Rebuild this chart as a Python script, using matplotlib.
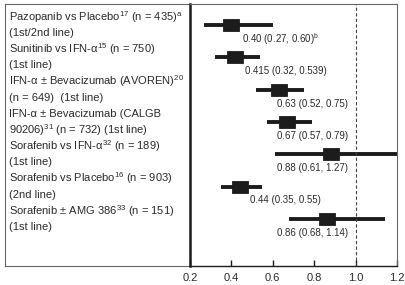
import matplotlib
matplotlib.use("Agg")
import matplotlib.pyplot as plt
from matplotlib.path import Path

plt.rcParams['font.family'] = ['Liberation Sans', 'DejaVu Sans']
plt.rcParams['mathtext.fontset'] = 'custom'
plt.rcParams['mathtext.rm'] = 'Liberation Sans'
plt.rcParams['mathtext.it'] = 'Liberation Sans'

# Dane badań (dwie linie opisu na badanie)
studies_l1 = [
    "Pazopanib vs Placebo$^{17}$ (n = 435)$^{a}$",
    "Sunitinib vs IFN-α$^{15}$ (n = 750)",
    "IFN-α ± Bevacizumab (AVOREN)$^{20}$",
    "IFN-α ± Bevacizumab (CALGB",
    "Sorafenib vs IFN-α$^{32}$ (n = 189)",
    "Sorafenib vs Placebo$^{16}$ (n = 903)",
    "Sorafenib ± AMG 386$^{33}$ (n = 151)",
]
studies_l2 = [
    "(1st/2nd line)",
    "(1st line)",
    "(n = 649)  (1st line)",
    "90206)$^{31}$ (n = 732) (1st line)",
    "(1st line)",
    "(2nd line)",
    "(1st line)",
]
hr = [0.40, 0.415, 0.63, 0.67, 0.88, 0.44, 0.86]
ci_low = [0.27, 0.32, 0.52, 0.57, 0.61, 0.35, 0.68]
ci_high = [0.60, 0.539, 0.75, 0.79, 1.27, 0.55, 1.14]
hr_labels = ["0.40 (0.27, 0.60)$^{b}$", "0.415 (0.32, 0.539)", "0.63 (0.52, 0.75)",
             "0.67 (0.57, 0.79)", "0.88 (0.61, 1.27)", "0.44 (0.35, 0.55)",
             "0.86 (0.68, 1.14)"]
xticks = [0.2, 0.4, 0.6, 0.8, 1.0, 1.2]

ink = "#1c1c1c"
txt = "#2a2a2a"
box = "#666666"

fig = plt.figure(figsize=(4.06, 2.85), dpi=100)
ax_txt = fig.add_axes([5 / 406, 1 - 266 / 285, 185 / 406, 262 / 285])
ax = fig.add_axes([190 / 406, 1 - 266 / 285, 207 / 406, 262 / 285])

n = len(studies_l1)
ylim = (n - 1 + 1.46, -0.65)

# Panel z opisami
ax_txt.set_xlim(0, 1)
ax_txt.set_ylim(*ylim)
ax_txt.set_xticks([])
ax_txt.set_yticks([])
for s in ax_txt.spines.values():
    s.set_color(box)
    s.set_linewidth(0.8)
ax_txt.spines['right'].set_visible(False)
for i in range(n):
    ax_txt.text(0.022, i - 0.25, studies_l1[i], ha="left", va="center",
                fontsize=8, color=txt)
    ax_txt.text(0.022, i + 0.25, studies_l2[i], ha="left", va="center",
                fontsize=8, color=txt)

# Wykres drzewkowy
ax.set_xlim(0.2, 1.2)
ax.set_ylim(*ylim)
rect = Path([(-1.35, -1), (1.35, -1), (1.35, 1), (-1.35, 1), (-1.35, -1)],
            [Path.MOVETO, Path.LINETO, Path.LINETO, Path.LINETO, Path.CLOSEPOLY])
for i in range(n):
    ax.plot([ci_low[i], ci_high[i]], [i, i], color=ink, lw=2.8,
            solid_capstyle="butt")
    ax.plot(hr[i], i, marker=rect, markersize=12, color=ink,
            markeredgewidth=0.6, markeredgecolor=ink)
    ax.text(min(hr[i] + 0.05, 0.62), i + 0.43, hr_labels[i], ha="left",
            va="center", fontsize=7, color=txt)

ax.axvline(1.0, color="#444444", lw=0.8, ls=(0, (3, 2)))
ax.set_yticks([])
ax.set_xticks(xticks)
ax.set_xticklabels([f"{v:.1f}" for v in xticks], fontsize=8, color=txt)
ax.tick_params(axis="x", direction="in", length=4.5, width=1, color=ink, pad=5)
ax.spines['left'].set_linewidth(1.8)
ax.spines['left'].set_color(ink)
ax.spines['bottom'].set_color(ink)
ax.spines['bottom'].set_linewidth(1.0)
ax.spines['top'].set_color(box)
ax.spines['top'].set_linewidth(0.8)
ax.spines['right'].set_color(box)
ax.spines['right'].set_linewidth(0.8)

fig.savefig("out.png", dpi=100)
